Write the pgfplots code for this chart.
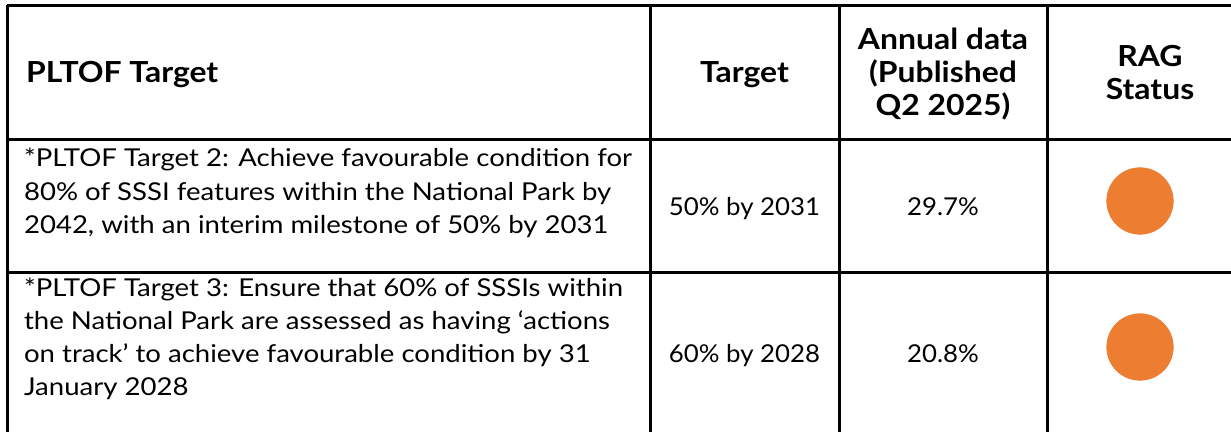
\documentclass[border=0pt]{standalone}
\usepackage{fontspec}
\setmainfont{Lato}
\usepackage{graphicx}
\usepackage{pgfplots}
\pgfplotsset{compat=1.18}
\definecolor{ragorange}{RGB}{237,125,49}
\newcommand\B[1]{\scalebox{1.1}[1]{\fontsize{14.5}{17}\selectfont\bfseries #1}}
\newcommand\R[1]{\scalebox{1.12}[1]{\fontsize{12.3}{15}\selectfont #1}}
\newcommand\V[1]{\scalebox{1.05}[1]{\fontsize{12.3}{15}\selectfont #1}}
\begin{document}
\begin{tikzpicture}
\begin{axis}[
  scale only axis, width=615.5pt, height=216pt,
  xmin=0, xmax=1231, ymin=0, ymax=432, y dir=reverse,
  hide axis, clip=false,
  every node/.style={inner sep=0pt, text=black},
]
\coordinate (SW) at (axis cs:0,432);
\coordinate (NE) at (axis cs:1231,0);
% table rules
\draw[line width=1.5pt] (axis cs:7,6) -- (axis cs:1231,6);
\draw[line width=1.5pt] (axis cs:7,140) -- (axis cs:1231,140);
\draw[line width=1.5pt] (axis cs:7,273) -- (axis cs:1231,273);
\draw[line width=1.5pt] (axis cs:7,5.25) -- (axis cs:7,432);
\draw[line width=1.5pt] (axis cs:650,6) -- (axis cs:650,432);
\draw[line width=1.5pt] (axis cs:839,6) -- (axis cs:839,432);
\draw[line width=1.5pt] (axis cs:1047,6) -- (axis cs:1047,432);
% RAG status dots
\addplot[only marks, mark=*, mark size=16.6pt, color=ragorange,
  mark options={draw=none, fill=ragorange}] coordinates {(1140,201) (1140,347)};
% header
\node[anchor=base west] at (axis cs:19,83) {\B{PLTOF Target}};
\node[anchor=base] at (axis cs:744.5,83) {\B{Target}};
\node[anchor=base] at (axis cs:943,50) {\B{Annual data}};
\node[anchor=base] at (axis cs:943,83) {\B{(Published}};
\node[anchor=base] at (axis cs:943,116) {\B{Q2 2025)}};
\node[anchor=base] at (axis cs:1150,67) {\B{RAG}};
\node[anchor=base] at (axis cs:1150,100) {\B{Status}};
% row 1
\node[anchor=base west] at (axis cs:17,167) {\R{*PLTOF Target 2: Achieve favourable condition for}};
\node[anchor=base west] at (axis cs:17,201) {\R{80\% of SSSI features within the National Park by}};
\node[anchor=base west] at (axis cs:17,234) {\R{2042, with an interim milestone of 50\% by 2031}};
\node[anchor=base] at (axis cs:744.5,216) {\V{50\% by 2031}};
\node[anchor=base] at (axis cs:943,216) {\V{29.7\%}};
% row 2
\node[anchor=base west] at (axis cs:17,297) {\R{*PLTOF Target 3: Ensure that 60\% of SSSIs within}};
\node[anchor=base west] at (axis cs:17,330) {\R{the National Park are assessed as having ‘actions}};
\node[anchor=base west] at (axis cs:17,363) {\R{on track’ to achieve favourable condition by 31}};
\node[anchor=base west] at (axis cs:17,396) {\R{January 2028}};
\node[anchor=base] at (axis cs:744.5,363) {\V{60\% by 2028}};
\node[anchor=base] at (axis cs:943,363) {\V{20.8\%}};
\end{axis}
\pgfresetboundingbox
\useasboundingbox (SW) rectangle (NE);
\end{tikzpicture}
\end{document}
